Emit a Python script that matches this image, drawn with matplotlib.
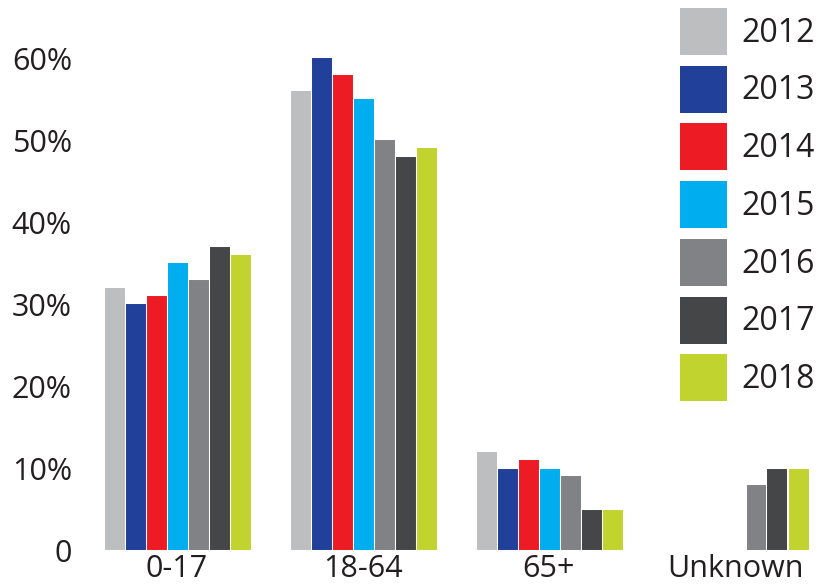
import numpy as np
import matplotlib
matplotlib.use("Agg")
import matplotlib.pyplot as plt

plt.rcParams['font.family'] = ['Open Sans', 'DejaVu Sans']

groups = ['0-17', '18-64', '65+', 'Unknown']
years = ['2012', '2013', '2014', '2015', '2016', '2017', '2018']
colors = ['#bcbec0', '#21409a', '#ed1c24', '#00aeef', '#808285', '#454648', '#c1d32f']

# share of cases per age group (%), one list per year
v2012 = [32.1, 56.1, 12.1, 0.1]
v2013 = [30.1, 60.1, 10.0, 0.1]
v2014 = [31.1, 58.1, 11.1, 0.1]
v2015 = [35.1, 55.1, 10.0, 0.1]
v2016 = [33.1, 50.1, 9.1, 8.1]
v2017 = [37.1, 48.1, 5.0, 10.0]
v2018 = [36.1, 49.1, 5.0, 10.0]
values = [v2012, v2013, v2014, v2015, v2016, v2017, v2018]

yticks = [0, 10, 20, 30, 40, 50, 60]
ytick_labels = ['0', '10%', '20%', '30%', '40%', '50%', '60%']

W, H = 817, 586
fig = plt.figure(figsize=(W / 100, H / 100), dpi=100)
# axes placed in pixel terms: left edge 90px, baseline 36px from bottom
ax = fig.add_axes([90 / W, 36 / H, (W - 90) / W, (H - 36) / H])

step = 21 / 186
x = np.arange(len(groups))
for i, (yr, vals) in enumerate(zip(years, values)):
    ax.bar(x + (i - 3) * step, vals, width=step, color=colors[i],
           edgecolor='white', linewidth=0.75, label=yr)

ax.set_xlim((90 - 177) / 186, (W - 177) / 186)
ax.set_ylim(0, 550 / 8.2)

ax.set_yticks(yticks)
ax.set_yticklabels(ytick_labels)
ax.set_xticks(x)
ax.set_xticklabels(groups)
ax.tick_params(axis='y', length=0, pad=13, labelsize=22, labelcolor='#231f20')
ax.tick_params(axis='x', length=0, pad=3, labelsize=22, labelcolor='#231f20')
for lab in ax.get_yticklabels():
    lab.set_va('center_baseline')
for s in ax.spines.values():
    s.set_visible(False)

lfs = 23 * 100 / 72
hh = (47 / lfs - 0.245) / 0.65
leg = fig.legend(loc='upper left', bbox_to_anchor=(680 / W, 1 - 8 / H),
                 frameon=False, fontsize=23, borderpad=0, borderaxespad=0,
                 handlelength=47 / lfs, handleheight=hh,
                 labelspacing=(57.7 - 47) / lfs,
                 handletextpad=14 / lfs)
for t in leg.get_texts():
    t.set_color('#231f20')
for p in leg.get_patches():
    p.set_edgecolor('none')

fig.savefig('out.png', dpi=100)
